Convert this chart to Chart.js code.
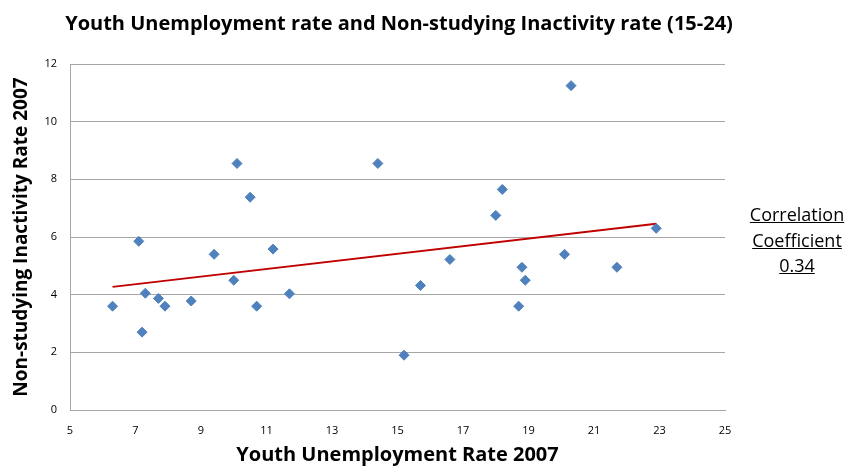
<!DOCTYPE html>
<html>
<head>
<meta charset="utf-8">
<script src="https://cdn.jsdelivr.net/npm/chart.js@4/dist/chart.umd.min.js"></script>
<style>
  html, body { margin: 0; padding: 0; background: #fff; }
  #wrap { position: relative; width: 848px; height: 468px; }
  #note {
    position: absolute; left: 737px; top: 202px; width: 120px;
    font-family: "Open Sans", "Noto Sans", sans-serif; font-size: 18px;
    line-height: 25.5px; text-align: center; color: #000; text-decoration: underline;
  }
</style>
</head>
<body>
<div id="wrap">
  <canvas id="chart" width="848" height="468"></canvas>
  <div id="note">Correlation<br>Coefficient<br>0.34</div>
</div>
<script>
// Youth unemployment rate 2007 (x) vs non-studying inactivity rate 2007 (y)
const unemployment = [6.3, 7.1, 7.2, 7.3, 7.7, 7.9, 8.7, 9.4, 10.0, 10.1, 10.5, 10.7, 11.2, 11.7,
  14.4, 15.2, 15.7, 16.6, 18.0, 18.2, 18.7, 18.8, 18.9, 20.1, 20.3, 21.7, 22.9];
const inactivity = [3.6, 5.85, 2.7, 4.05, 3.87, 3.6, 3.78, 5.4, 4.5, 8.55, 7.38, 3.6, 5.58, 4.03,
  8.55, 1.9, 4.32, 5.22, 6.75, 7.65, 3.6, 4.95, 4.5, 5.4, 11.25, 4.95, 6.3];

// linear trend line end points
const trendX = [6.3, 22.9];
const trendY = [4.27, 6.46];

const xTicks = [5, 7, 9, 11, 13, 15, 17, 19, 21, 23, 25];
const yTicks = [0, 2, 4, 6, 8, 10, 12];

const fontFamily = '"Open Sans", "Noto Sans", sans-serif';
const gridGray = '#a6a6a6';

const points = unemployment.map((x, i) => ({ x: x, y: inactivity[i] }));
const trend = trendX.map((x, i) => ({ x: x, y: trendY[i] }));

new Chart(document.getElementById('chart'), {
  type: 'scatter',
  data: {
    datasets: [
      {
        label: 'Countries',
        data: points,
        pointStyle: 'rectRot',
        pointRadius: 5,
        pointBorderWidth: 1,
        backgroundColor: '#4f81bd',
        borderColor: '#4f81bd',
        order: 1
      },
      {
        label: 'Trend',
        type: 'line',
        data: trend,
        borderColor: '#c00000',
        borderWidth: 2,
        pointRadius: 0,
        fill: false,
        order: 2
      }
    ]
  },
  options: {
    responsive: false,
    animation: false,
    // right padding keeps the title centred like the original; the blank right axis fills the rest
    layout: { padding: { left: 0, right: 50, top: 0, bottom: 0 } },
    plugins: {
      legend: { display: false },
      tooltip: { enabled: false },
      title: {
        display: true,
        text: 'Youth Unemployment rate and Non-studying Inactivity rate (15-24)',
        color: '#000',
        font: { family: fontFamily, size: 20, weight: 'bold' },
        padding: { top: 12, bottom: 28 }
      }
    },
    scales: {
      x: {
        type: 'linear',
        min: 5,
        max: 25,
        afterBuildTicks: (axis) => { axis.ticks = xTicks.map(v => ({ value: v })); },
        afterFit: (axis) => { axis.height = 58; },
        grid: { display: false, drawTicks: false },
        border: { display: true, color: gridGray, width: 1 },
        ticks: { color: '#000', padding: 14, font: { family: fontFamily, size: 11 } },
        title: {
          display: true,
          text: 'Youth Unemployment Rate 2007',
          color: '#000',
          font: { family: fontFamily, size: 20, weight: 'bold' },
          padding: { top: 0, bottom: 1 }
        }
      },
      y: {
        type: 'linear',
        min: 0,
        max: 12,
        afterBuildTicks: (axis) => { axis.ticks = yTicks.map(v => ({ value: v })); },
        afterFit: (axis) => { axis.width = 70; },
        grid: { color: gridGray, lineWidth: 1, drawTicks: false },
        border: { display: true, color: gridGray, width: 1 },
        ticks: { color: '#000', padding: 13, font: { family: fontFamily, size: 11 } },
        title: {
          display: true,
          text: 'Non-studying Inactivity Rate 2007',
          color: '#000',
          font: { family: fontFamily, size: 19, weight: 'bold' },
          padding: { top: 10, bottom: 0 }
        }
      },
      yRight: {
        type: 'linear',
        position: 'right',
        min: 0,
        max: 12,
        afterFit: (axis) => { axis.width = 73; },
        grid: { display: false, drawTicks: false },
        border: { display: false },
        ticks: { display: false }
      }
    }
  }
});
</script>
</body>
</html>
